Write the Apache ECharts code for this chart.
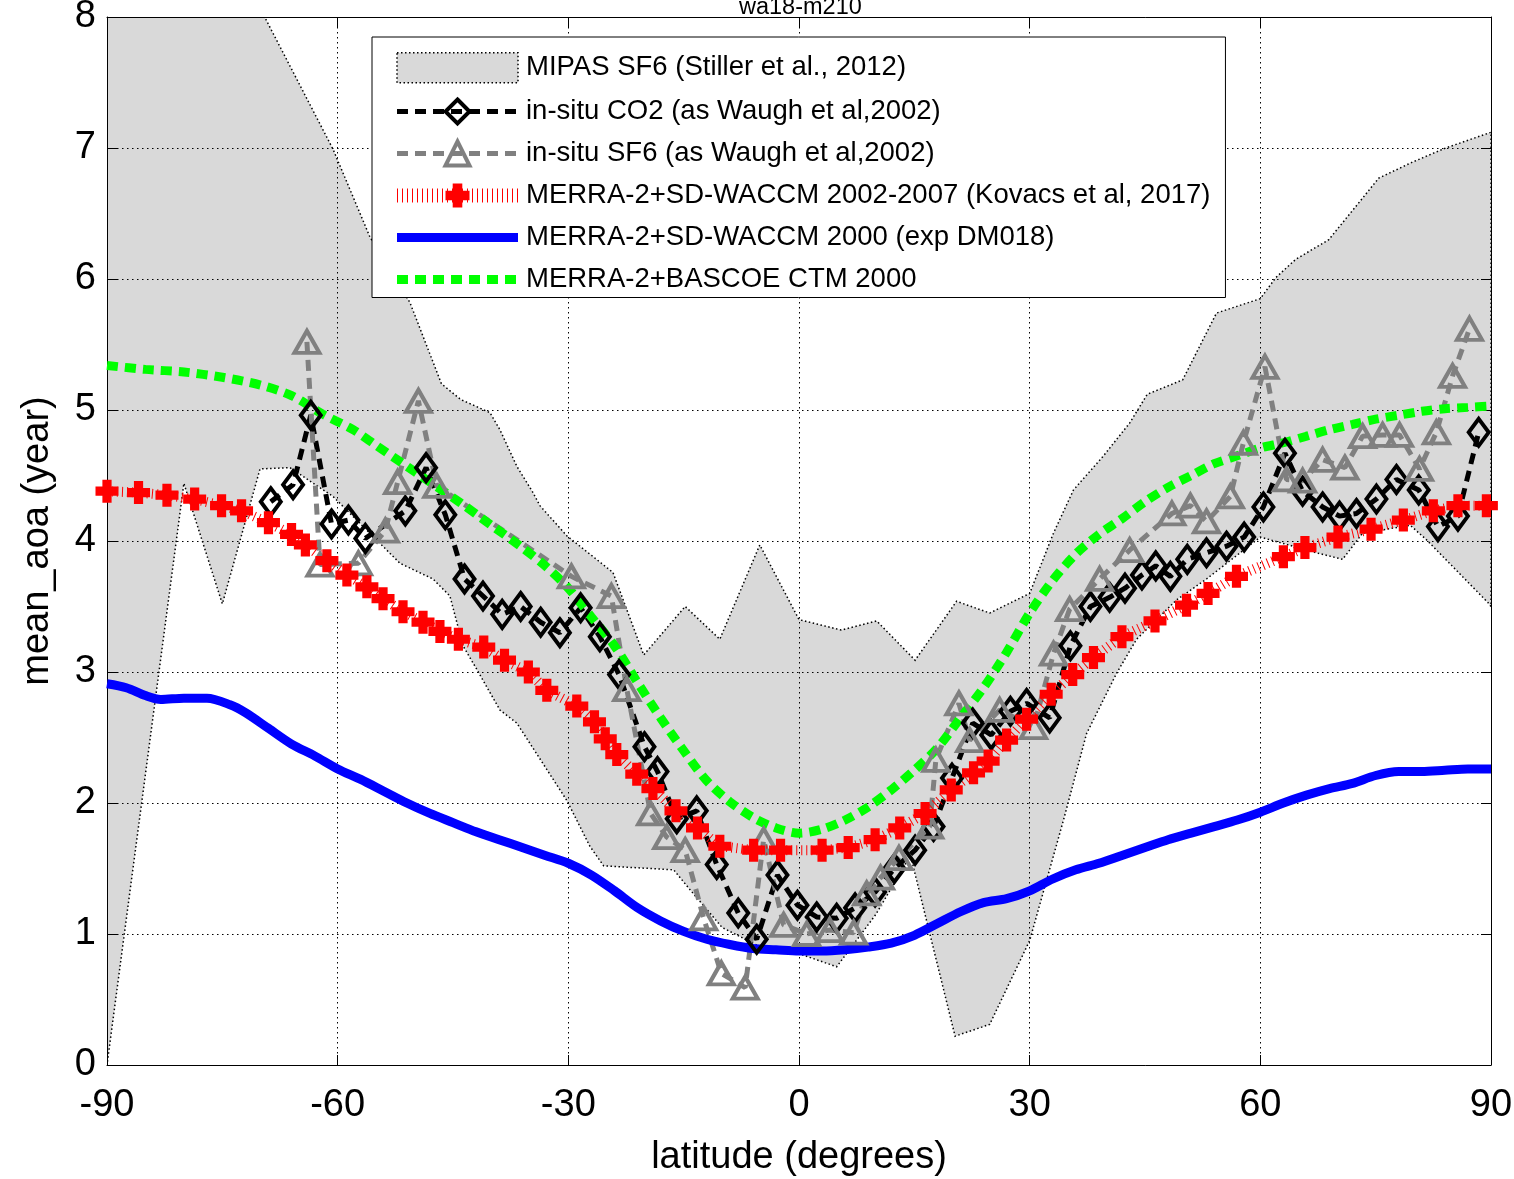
<!DOCTYPE html>
<html>
<head>
<meta charset="utf-8">
<script src="https://cdn.jsdelivr.net/npm/echarts/dist/echarts.min.js"></script>
<style>
html,body{margin:0;padding:0;background:#ffffff;}
#chart{width:1514px;height:1179px;}
</style>
</head>
<body>
<div id="chart"></div>
<script>
// ---------------- data (latitude in degrees, mean age of air in years) ----------------
const xTicks = [-90, -60, -30, 0, 30, 60, 90];
const yTicks = [0, 1, 2, 3, 4, 5, 6, 7, 8];

const seriesNames = [
  'MIPAS SF6 (Stiller et al., 2012)',
  'in-situ CO2 (as Waugh et al,2002)',
  'in-situ SF6 (as Waugh et al,2002)',
  'MERRA-2+SD-WACCM 2002-2007 (Kovacs et al, 2017)',
  'MERRA-2+SD-WACCM 2000 (exp DM018)',
  'MERRA-2+BASCOE CTM 2000'
];

// MIPAS SF6 range: upper and lower envelopes
const mipasUpper = [[-90,8],[-69.5,8],[-60.6,6.99],[-55.8,6.32],[-50.6,5.82],[-46.5,5.2],[-44,5.08],
  [-40.2,4.98],[-38.9,4.85],[-36.7,4.57],[-34.6,4.37],[-33.7,4.27],[-30.2,4.04],[-24.2,3.76],[-20.2,3.13],
  [-14.8,3.5],[-10.3,3.25],[-5.1,3.97],[0,3.40],[5.5,3.32],[10.1,3.39],[15.1,3.09],[20.5,3.54],[24.8,3.45],
  [30,3.60],[33.1,4.06],[35.7,4.39],[39.6,4.65],[43,4.90],[45.3,5.12],[49.9,5.23],[54.3,5.74],[60,5.85],
  [62,6.01],[64.6,6.15],[68.9,6.30],[73.2,6.61],[75.4,6.77],[79.7,6.89],[84.1,7.0],[90,7.12]];
const mipasLower = [[-90,0],[-80,4.44],[-75,3.52],[-70.1,4.55],[-66.2,4.56],[-60.6,4.34],[-51.9,3.83],
  [-47.6,3.71],[-45.4,3.58],[-43.7,3.20],[-41.9,3.02],[-38.9,2.71],[-36.7,2.61],[-30.2,2.02],[-27.2,1.67],
  [-25.4,1.52],[-16.3,1.49],[-14.2,1.34],[-10,1.05],[-5,0.9],[0,0.85],[4.9,0.75],[10,1.15],[14.5,1.6],
  [20.3,0.22],[24.8,0.31],[30,0.95],[34.4,1.87],[37.4,2.53],[41.3,2.99],[43.9,3.25],[49.1,3.55],[53,3.71],
  [60,4.03],[67.3,3.91],[70.7,3.86],[73.3,4.06],[79.5,4.12],[81.6,4.01],[89.6,3.53],[90,3.5]];

const insituCO2 = [[-68.7,4.30],[-65.8,4.43],[-63.5,4.96],[-60.8,4.13],[-58.6,4.16],[-56.4,4.02],[-51.2,4.23],
  [-48.5,4.56],[-46.0,4.20],[-43.5,3.71],[-41.1,3.58],[-38.6,3.44],[-36.2,3.50],[-33.6,3.38],[-31.1,3.30],
  [-28.4,3.49],[-25.9,3.27],[-23.4,2.98],[-20.1,2.43],[-18.4,2.24],[-15.9,1.88],[-13.3,1.94],[-10.7,1.53],
  [-7.9,1.16],[-5.5,0.96],[-2.8,1.45],[-0.2,1.22],[2.3,1.13],[4.9,1.12],[7.3,1.20],[9.9,1.32],[12.4,1.50],
  [15.1,1.64],[17.5,1.82],[19.9,2.19],[22.6,2.61],[25.0,2.52],[27.5,2.70],[29.6,2.76],[32.6,2.65],[35.3,3.20],
  [37.9,3.50],[40.4,3.57],[42.4,3.64],[44.6,3.74],[46.4,3.81],[48.3,3.73],[50.5,3.86],[53.0,3.91],[55.6,3.96],
  [57.9,4.03],[60.4,4.26],[63.2,4.67],[65.5,4.38],[68.1,4.26],[70.3,4.19],[72.5,4.21],[75.1,4.32],[77.7,4.47],
  [80.6,4.39],[83.1,4.11],[85.7,4.19],[88.4,4.83]];

const insituSF6 = [[-64.0,5.52],[-62.3,3.82],[-57.3,3.83],[-53.8,4.08],[-52.2,4.45],[-49.5,5.07],[-47.1,4.42],
  [-29.6,3.73],[-24.4,3.58],[-22.4,2.87],[-19.3,1.92],[-17.2,1.74],[-14.8,1.64],[-12.4,1.12],[-10.1,0.70],
  [-7.0,0.59],[-4.6,1.72],[-2.0,1.07],[1.0,1.00],[4.0,1.03],[7.1,1.01],[8.8,1.31],[10.6,1.43],[13.0,1.58],
  [17.0,1.82],[17.8,2.33],[20.8,2.76],[22.2,2.48],[26.1,2.71],[30.5,2.58],[33.1,3.14],[35.2,3.48],[39.1,3.71],
  [43.0,3.93],[48.5,4.21],[50.9,4.27],[53.0,4.15],[56.1,4.34],[57.8,4.75],[60.6,5.33],[63.4,4.47],[65.5,4.46],
  [68.1,4.62],[71.0,4.56],[73.3,4.80],[75.9,4.81],[78.1,4.81],[80.7,4.55],[82.9,4.83],[85.0,5.26],[87.2,5.62]];

const waccmKovacs = [[-90,4.38],[-85.9,4.37],[-82.2,4.35],[-78.6,4.32],[-75.1,4.27],[-72.5,4.23],[-69.0,4.14],
  [-66.0,4.05],[-64.2,3.97],[-61.4,3.85],[-58.8,3.74],[-56.2,3.65],[-54.1,3.56],[-51.5,3.46],[-48.9,3.38],
  [-46.7,3.31],[-44.3,3.25],[-41.0,3.19],[-38.3,3.09],[-35.2,3.00],[-32.8,2.86],[-28.9,2.74],[-26.6,2.62],
  [-25.2,2.49],[-23.7,2.37],[-21.1,2.22],[-19.0,2.11],[-16.0,1.94],[-13.2,1.81],[-10.3,1.67],[-5.9,1.64],
  [-2.4,1.64],[3.0,1.64],[6.4,1.66],[9.9,1.72],[13.1,1.81],[16.4,1.92],[19.8,2.10],[22.7,2.23],[24.6,2.32],
  [27.0,2.48],[29.6,2.64],[32.8,2.83],[35.6,2.98],[38.3,3.11],[42.0,3.27],[46.3,3.39],[50.4,3.51],[53.2,3.60],
  [56.9,3.73],[63.0,3.88],[65.8,3.95],[70.1,4.03],[74.4,4.09],[78.6,4.16],[82.5,4.23],[85.7,4.27],[89.4,4.27]];

const waccm2000 = [[-90,2.91],[-87.5,2.88],[-85,2.82],[-83,2.79],[-80,2.80],[-77,2.80],[-74,2.75],[-72,2.69],
  [-69,2.57],[-66,2.45],[-63,2.36],[-60,2.26],[-57,2.18],[-54,2.09],[-51,2.00],[-48,1.92],[-45,1.85],[-42,1.78],
  [-39,1.72],[-36,1.66],[-33,1.60],[-30,1.54],[-27,1.45],[-24,1.33],[-21,1.20],[-18,1.10],[-15,1.02],[-12,0.96],
  [-9,0.92],[-6,0.89],[-3,0.88],[0,0.87],[3,0.87],[6,0.88],[9,0.90],[12,0.93],[15,0.99],[18,1.08],[21,1.17],
  [24,1.24],[27,1.27],[30,1.33],[33,1.42],[36,1.49],[39,1.54],[42,1.60],[45,1.66],[48,1.72],[51,1.77],[54,1.82],
  [57,1.87],[60,1.93],[63,2.00],[66,2.06],[69,2.11],[72,2.15],[75,2.21],[78,2.24],[81,2.24],[84,2.25],[87,2.26],[90,2.26]];

const bascoe2000 = [[-90,5.34],[-85,5.31],[-80,5.29],[-75,5.25],[-70,5.19],[-66,5.11],[-62,4.97],[-58,4.85],
  [-55,4.73],[-52,4.61],[-48,4.45],[-44,4.29],[-40,4.12],[-36,3.95],[-33,3.81],[-30,3.64],[-27,3.42],[-24,3.20],
  [-21,2.92],[-18,2.65],[-15,2.40],[-12,2.17],[-9,2.01],[-6,1.89],[-3,1.81],[0,1.77],[3,1.80],[6,1.87],[9,1.97],
  [12,2.10],[15,2.25],[18,2.42],[21,2.65],[24,2.88],[27,3.15],[30,3.45],[33,3.70],[36,3.90],[39,4.05],[42,4.17],
  [45,4.30],[48,4.41],[51,4.50],[54,4.59],[57,4.65],[60,4.71],[63,4.75],[66,4.80],[69,4.85],[72,4.89],[75,4.93],
  [78,4.96],[81,4.99],[84,5.01],[87,5.02],[90,5.03]];

// ---------------- chart ----------------
const FONT = '"Liberation Sans", Arial, Helvetica, sans-serif';
const plusPath = 'path://M3,0H7V3H10V7H7V10H3V7H0V3H3Z';
const chart = echarts.init(document.getElementById('chart'), null, {renderer: 'canvas'});

const baseX = {
  type: 'value', min: xTicks[0], max: xTicks[xTicks.length - 1], interval: 30
};
const baseY = {
  type: 'value', min: yTicks[0], max: yTicks[yTicks.length - 1], interval: 1
};

const option = {
  animation: false,
  backgroundColor: '#ffffff',
  title: {
    text: 'wa18-m210', left: 739, top: -4, padding: 0,
    textStyle: {fontFamily: FONT, fontSize: 23.5, fontWeight: 'normal', color: '#000'}
  },
  grid: {left: 107, right: 23, top: 17, bottom: 114, containLabel: false, outerBoundsMode: 'none', show: false},
  legend: {
    orient: 'vertical', left: 372, top: 37,
    padding: [15, 15, 4, 18], itemGap: 14, itemWidth: 121, itemHeight: 30,
    backgroundColor: '#ffffff', borderColor: '#000', borderWidth: 1, borderRadius: 0,
    selectedMode: false,
    textStyle: {fontFamily: FONT, fontSize: 27.5, color: '#000', padding: [0, 0, 0, 3]},
    data: [
      {name: seriesNames[0], icon: 'rect',
        itemStyle: {color: '#d9d9d9', borderColor: '#000', borderWidth: 1.5, borderType: [1.5, 2.5]}},
      {name: seriesNames[1],
        itemStyle: {color: 'rgba(0,0,0,0)', borderColor: '#000', borderWidth: 4},
        lineStyle: {color: '#000', width: 5, type: [11, 7]}},
      {name: seriesNames[2],
        itemStyle: {color: 'rgba(0,0,0,0)', borderColor: '#808080', borderWidth: 4},
        lineStyle: {color: '#808080', width: 5, type: [11, 7]}},
      {name: seriesNames[3],
        itemStyle: {color: '#ff0000', borderWidth: 0},
        lineStyle: {color: '#ff0000', width: 14, type: [1, 4]}},
      {name: seriesNames[4],
        itemStyle: {opacity: 0},
        lineStyle: {color: '#0000ff', width: 9, type: 'solid'}},
      {name: seriesNames[5],
        itemStyle: {opacity: 0},
        lineStyle: {color: '#00ff00', width: 9, type: [11, 7]}}
    ]
  },
  xAxis: [
    Object.assign({}, baseX, {
      position: 'bottom',
      name: 'latitude (degrees)', nameLocation: 'middle', nameGap: 74,
      nameTextStyle: {fontFamily: FONT, fontSize: 38, color: '#000'},
      axisLine: {show: true, onZero: false, lineStyle: {color: '#000', width: 1}},
      axisTick: {show: true, inside: true, length: 10, lineStyle: {color: '#000', width: 1}},
      axisLabel: {show: true, margin: 22, fontFamily: FONT, fontSize: 38, color: '#000',
        showMinLabel: true, showMaxLabel: true},
      splitLine: {show: true, lineStyle: {color: '#000', width: 1, type: [1.5, 3.5]}}
    }),
    Object.assign({}, baseX, {
      position: 'top',
      axisLine: {show: true, onZero: false, lineStyle: {color: '#000', width: 1}},
      axisTick: {show: true, inside: true, length: 10, lineStyle: {color: '#000', width: 1}},
      axisLabel: {show: false},
      splitLine: {show: false}
    })
  ],
  yAxis: [
    Object.assign({}, baseY, {
      position: 'left',
      name: 'mean_aoa (year)', nameLocation: 'middle', nameGap: 50,
      nameTextStyle: {fontFamily: FONT, fontSize: 38, color: '#000'},
      axisLine: {show: true, onZero: false, lineStyle: {color: '#000', width: 1}},
      axisTick: {show: true, inside: true, length: 10, lineStyle: {color: '#000', width: 1}},
      axisLabel: {show: true, margin: 11, fontFamily: FONT, fontSize: 38, color: '#000',
        showMinLabel: true, showMaxLabel: true},
      splitLine: {show: true, lineStyle: {color: '#000', width: 1, type: [1.5, 3.5]}}
    }),
    Object.assign({}, baseY, {
      position: 'right',
      axisLine: {show: true, onZero: false, lineStyle: {color: '#000', width: 1}},
      axisTick: {show: true, inside: true, length: 10, lineStyle: {color: '#000', width: 1}},
      axisLabel: {show: false},
      splitLine: {show: false}
    })
  ],
  series: [
    {
      name: seriesNames[0], type: 'custom', z: -1, clip: true, silent: true,
      xAxisIndex: 0, yAxisIndex: 0,
      data: [mipasLower[0]],
      itemStyle: {color: '#d9d9d9'},
      renderItem: function (params, api) {
        if (params.dataIndex !== 0) return null;
        const pts = mipasUpper.map(p => api.coord(p))
          .concat(mipasLower.slice().reverse().map(p => api.coord(p)));
        return {
          type: 'polygon',
          shape: {points: pts},
          style: {fill: '#d9d9d9', stroke: '#000', lineWidth: 1.5, lineDash: [1.5, 2.5]}
        };
      }
    },
    {
      name: seriesNames[1], type: 'line', data: insituCO2,
      symbol: 'diamond', symbolSize: [20, 27], showSymbol: true, showAllSymbol: true,
      itemStyle: {color: 'rgba(0,0,0,0)', borderColor: '#000', borderWidth: 4},
      lineStyle: {color: '#000', width: 5, type: [11, 7]},
      emphasis: {disabled: true}, silent: true
    },
    {
      name: seriesNames[2], type: 'line', data: insituSF6,
      symbol: 'triangle', symbolSize: [25, 22], showSymbol: true, showAllSymbol: true,
      itemStyle: {color: 'rgba(0,0,0,0)', borderColor: '#808080', borderWidth: 4},
      lineStyle: {color: '#808080', width: 5, type: [11, 7]},
      emphasis: {disabled: true}, silent: true
    },
    {
      name: seriesNames[3], type: 'line', data: waccmKovacs,
      symbol: plusPath, symbolSize: 23, showSymbol: true, showAllSymbol: true,
      itemStyle: {color: '#ff0000', borderWidth: 0},
      lineStyle: {color: '#ff0000', width: 10, type: [1, 4]},
      emphasis: {disabled: true}, silent: true
    },
    {
      name: seriesNames[4], type: 'line', data: waccm2000,
      symbol: 'none', showSymbol: false, smooth: 0.3,
      itemStyle: {color: '#0000ff'},
      lineStyle: {color: '#0000ff', width: 9, type: 'solid'},
      emphasis: {disabled: true}, silent: true
    },
    {
      name: seriesNames[5], type: 'line', data: bascoe2000,
      symbol: 'none', showSymbol: false, smooth: 0.3,
      itemStyle: {color: '#00ff00'},
      lineStyle: {color: '#00ff00', width: 9, type: [11, 7], cap: 'butt'},
      emphasis: {disabled: true}, silent: true
    }
  ]
};
chart.setOption(option);
</script>
</body>
</html>
